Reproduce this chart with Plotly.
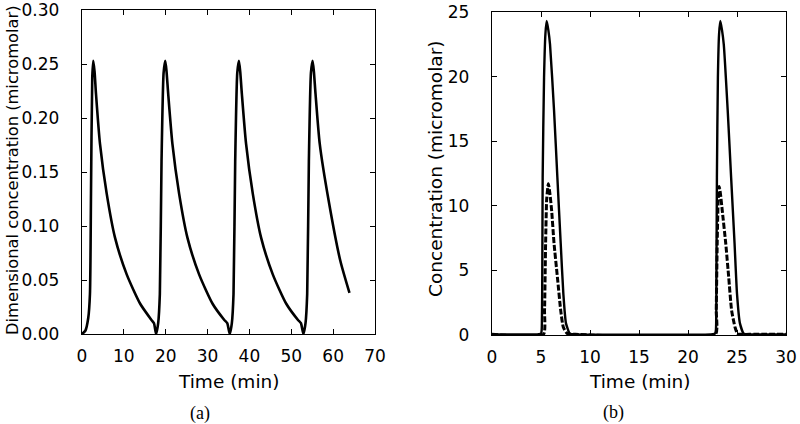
import plotly.graph_objects as go

W, H = 800, 424

# ---------- Panel (a): differential concentration vs time ----------
time_a = [0, 0.8, 1.5, 1.9, 2.15, 2.45, 2.7, 3.0, 3.35, 4.3, 5.9, 7.9, 10.7, 13.9, 16.6, 17.2, 17.7,
          18.2, 18.6, 19.0, 19.5, 19.9,
          20.2, 20.6, 21.6, 23.2, 25.2, 28.0, 31.2, 34.0, 34.7, 35.3,
          35.8, 36.2, 36.6, 37.1, 37.5,
          37.8, 38.2, 39.2, 40.8, 42.8, 45.6, 48.8, 51.6, 52.3, 52.9,
          53.4, 53.8, 54.2, 54.7, 55.1,
          55.4, 55.8, 56.8, 58.9, 61.7, 63.9]
conc_a = [0.0, 0.003, 0.015, 0.037, 0.13, 0.238, 0.253, 0.243, 0.222, 0.176, 0.130, 0.089, 0.055, 0.028, 0.013, 0.010, 0.0,
          0.010, 0.037, 0.16, 0.242, 0.253,
          0.243, 0.222, 0.176, 0.130, 0.089, 0.055, 0.028, 0.013, 0.010, 0.0,
          0.010, 0.037, 0.16, 0.242, 0.253,
          0.243, 0.222, 0.176, 0.130, 0.089, 0.055, 0.028, 0.013, 0.010, 0.0,
          0.010, 0.037, 0.16, 0.242, 0.253,
          0.243, 0.222, 0.176, 0.124, 0.068, 0.038]

# ---------- Panel (b): concentration vs time ----------
time_b_solid = [0, 4.6, 5.0, 5.07, 5.13, 5.17, 5.31, 5.45, 5.58, 5.75, 5.92, 6.33, 6.67, 7.01, 7.28, 7.55, 7.96, 8.6,
                22.3, 22.75, 22.85, 22.9, 22.95, 23.05, 23.17, 23.3, 23.47, 23.65, 24.05, 24.4, 24.75, 25.0, 25.3, 25.7, 26.3, 30]
conc_b_solid = [0.05, 0.05, 0.1, 0.4, 4.5, 12.2, 19.9, 23.3, 24.3, 23.6, 22.5, 17.4, 12.2, 7.1, 3.2, 0.9, 0.1, 0.05,
                0.05, 0.1, 0.4, 4.5, 12.2, 19.9, 23.3, 24.3, 23.6, 22.5, 17.4, 12.2, 7.1, 3.2, 0.9, 0.1, 0.05, 0.05]

time_b_dash = [0, 5.25, 5.36, 5.47, 5.58, 5.75, 5.9, 6.09, 6.33, 6.67, 7.01, 7.28, 7.7, 8.5,
               22.8, 22.88, 22.98, 23.08, 23.18, 23.3, 23.5, 23.85, 24.15, 24.45, 24.8, 25.05, 25.45, 26.3, 30]
conc_b_dash = [0.05, 0.05, 1.9, 7.1, 10.5, 11.7, 11.0, 9.6, 7.1, 4.5, 1.9, 0.6, 0.1, 0.05,
               0.05, 1.9, 7.1, 10.5, 11.5, 11.0, 9.6, 7.1, 4.5, 1.9, 0.6, 0.1, 0.05, 0.05, 0.05]

xticks_a = [0, 10, 20, 30, 40, 50, 60, 70]
yticks_a = [0.00, 0.05, 0.10, 0.15, 0.20, 0.25, 0.30]
xticks_b = [0, 5, 10, 15, 20, 25, 30]
yticks_b = [0, 5, 10, 15, 20, 25]

FONT = "DejaVu Sans"

fig = go.Figure()
fig.add_trace(go.Scatter(x=time_a, y=conc_a, mode="lines", xaxis="x", yaxis="y",
                         line=dict(color="black", width=2.6, shape="spline", smoothing=0.6),
                         showlegend=False))
fig.add_trace(go.Scatter(x=time_b_solid, y=conc_b_solid, mode="lines", xaxis="x2", yaxis="y2",
                         line=dict(color="black", width=2.4, shape="spline", smoothing=0.5),
                         showlegend=False))
fig.add_trace(go.Scatter(x=time_b_dash, y=conc_b_dash, mode="lines", xaxis="x2", yaxis="y2",
                         line=dict(color="black", width=3, dash="6px,2px", shape="spline", smoothing=0.5),
                         showlegend=False))


def px_x(p):
    return p / W


def px_y(p):
    return 1 - p / H


axis_common = dict(showline=True, linecolor="black", linewidth=1.4, mirror="ticks",
                   ticks="inside", ticklen=5, tickwidth=1.2, tickcolor="black",
                   showgrid=False, zeroline=False, automargin=False,
                   ticklabeloverflow="allow",
                   tickfont=dict(family=FONT, size=17, color="black"))

fig.update_layout(
    width=W, height=H,
    margin=dict(l=0, r=0, t=0, b=0),
    paper_bgcolor="white", plot_bgcolor="white",
    xaxis=dict(domain=[px_x(82), px_x(375)], range=[0, 70], tickvals=xticks_a,
               ticklabelstandoff=6, anchor="y", **axis_common),
    yaxis=dict(domain=[px_y(334), px_y(10)], range=[0, 0.30], tickvals=yticks_a,
               tickformat=".2f", ticklabelstandoff=18, anchor="x", **axis_common),
    xaxis2=dict(domain=[px_x(492), px_x(786)], range=[0, 30], tickvals=xticks_b,
                ticklabelstandoff=6, anchor="y2", **axis_common),
    yaxis2=dict(domain=[px_y(335), px_y(12)], range=[0, 25], tickvals=yticks_b,
                ticklabelstandoff=18, anchor="x2", **axis_common),
)

anns = [
    dict(text="Time (min)", x=px_x(228.5), y=px_y(381), size=18.5, family=FONT, angle=0),
    dict(text="Time (min)", x=px_x(639), y=px_y(381), size=18.5, family=FONT, angle=0),
    dict(text="Dimensional concentration (micromolar)", x=px_x(12), y=px_y(170), size=16.3, family=FONT, angle=-90),
    dict(text="Concentration (micromolar)", x=px_x(435), y=px_y(169), size=18.5, family=FONT, angle=-90),
    dict(text="(a)", x=px_x(200), y=px_y(413), size=18, family="Liberation Serif", angle=0),
    dict(text="(b)", x=px_x(613), y=px_y(412), size=18, family="Liberation Serif", angle=0),
]
for a in anns:
    fig.add_annotation(text=a["text"], x=a["x"], y=a["y"], xref="paper", yref="paper",
                       xanchor="center", yanchor="middle", showarrow=False, textangle=a["angle"],
                       font=dict(family=a["family"], size=a["size"], color="black"))

fig.write_html("out.html", config={"displayModeBar": False},
               post_script="document.body.style.margin='0';")
